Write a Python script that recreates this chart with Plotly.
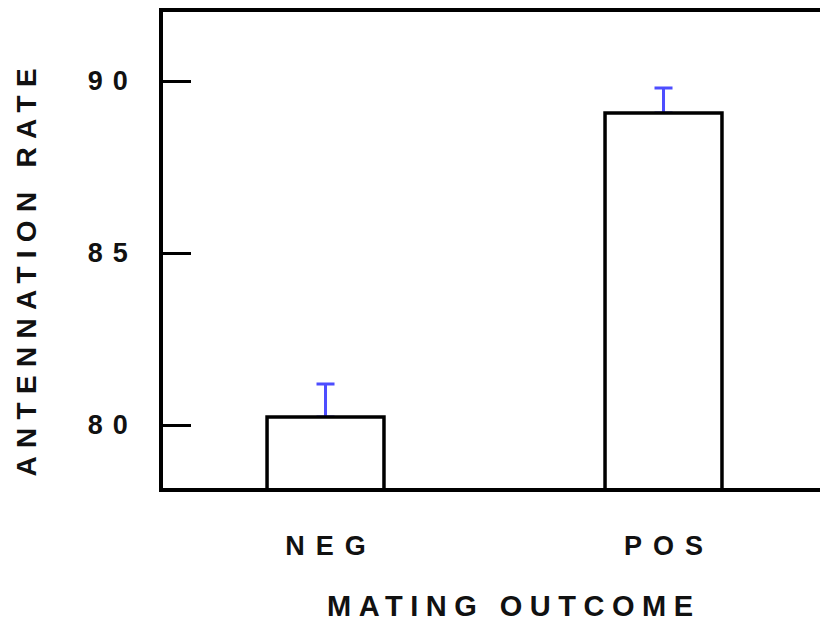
import plotly.graph_objects as go

categories = ["NEG", "POS"]
cat_pos = [0, 1]
means = [80.23, 89.07]
errors_up = [0.96, 0.73]
y_tick_vals = [80, 85, 90]
y_tick_labels = ["80", "85", "90"]
x_title = "MATING OUTCOME"
y_title = "ANTENNATION RATE"

FONT = "Liberation Sans, Arial, Helvetica, sans-serif"
INK = "#111111"
BLUE = "#4d4dff"


def spaced(txt, px):
    # letter-spacing on all but the last character (no trailing gap)
    return f'<span style="letter-spacing:{px}px">{txt[:-1]}</span>{txt[-1]}'


fig = go.Figure()
# error bars (drawn first, beneath the bar outlines)
fig.add_trace(go.Bar(
    x=cat_pos, y=means, width=0.346,
    marker=dict(color="rgba(0,0,0,0)", line=dict(width=0)),
    error_y=dict(type="data", symmetric=False, array=errors_up,
                 arrayminus=[0] * len(means), color=BLUE, thickness=3, width=9),
    hoverinfo="skip", showlegend=False,
))
fig.add_trace(go.Bar(
    x=cat_pos, y=means, width=0.346,
    marker=dict(color="white", line=dict(color="black", width=3.5)),
    showlegend=False,
))

fig.update_layout(
    width=820, height=629,
    margin=dict(l=163, r=0, t=12, b=141),
    paper_bgcolor="white", plot_bgcolor="white",
    barmode="overlay",
    font=dict(family=FONT, color=INK, weight=700),
    xaxis=dict(
        range=[-0.4808, 1.463],
        tickvals=cat_pos,
        ticktext=[spaced(c, 11) for c in categories],
        tickfont=dict(size=27, family=FONT, color=INK, weight=700),
        showline=True, linecolor="black", linewidth=3.5, mirror=True,
        ticks="", showgrid=False, zeroline=False,
        ticklabelstandoff=31,
    ),
    yaxis=dict(
        range=[78.169, 92.006],
        tickvals=y_tick_vals,
        ticktext=[spaced(t, 10) for t in y_tick_labels],
        tickfont=dict(size=27, family=FONT, color=INK, weight=700),
        showline=True, linecolor="black", linewidth=3.5, mirror=False,
        ticks="inside", ticklen=28, tickwidth=3, tickcolor="black",
        showgrid=False, zeroline=False,
        ticklabelstandoff=26,
    ),
    annotations=[
        dict(text=spaced(x_title, 7.5), xref="paper", yref="paper",
             x=0.528, y=-0.2479, xanchor="center", yanchor="middle",
             showarrow=False, font=dict(size=29, family=FONT, color=INK, weight=700)),
        dict(text=spaced(y_title, 8.3), xref="paper", yref="paper",
             x=-0.207, y=0.4527, xanchor="center", yanchor="middle", textangle=-90,
             showarrow=False, font=dict(size=28, family=FONT, color=INK, weight=700)),
    ],
)

fig.write_html(
    "out.html",
    config={"displayModeBar": False},
    post_script="document.body.style.margin='0';document.body.style.overflow='hidden';",
)
